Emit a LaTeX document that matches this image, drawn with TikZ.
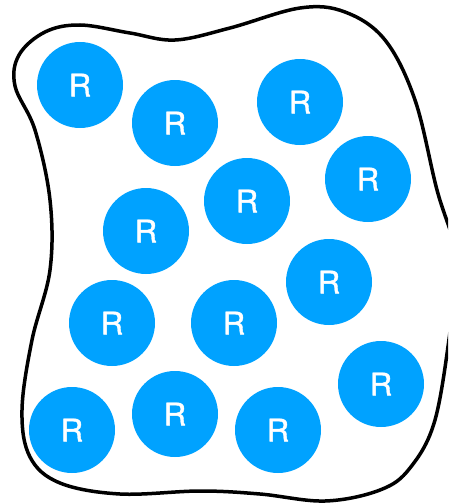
\documentclass[tikz,border=0pt]{standalone}
\usepackage{fontspec}
\newfontface\rface[FakeBold=1.3]{TeX Gyre Heros}
\usepackage{xcolor}
\definecolor{Rblue}{HTML}{00A2FF}

\begin{document}
\begin{tikzpicture}[
    x=1pt,y=-1pt,
    res/.style={circle,fill=Rblue,minimum size=86pt,inner sep=0pt,text=white,font=\rface\fontsize{31}{31}\selectfont},
    wall/.style={line width=3.5pt,black}
  ]
    \useasboundingbox (0,0) rectangle (448,503);
    \clip (0,0) rectangle (448,503);

    % outline of the region
    \draw[wall] plot[smooth cycle,tension=0.6] coordinates {
      (15,86) (19,55) (45,32) (80,25) (130,33) (175,40) (230,28) (300,8)
      (345,12) (385,40) (415,100) (437,190) (458,262) (451,325) (435,420)
      (410,468) (380,490) (325,501) (260,494) (200,491) (120,494) (60,483)
      (30,457) (22,410) (32,340) (50,270) (50,200) (35,130)};

    % top row
    \node[res] (r1) at (80,85) {R};
    \node[res] (r2) at (175,123) {R};
    \node[res] (r3) at (300,102) {R};
    % second row
    \node[res] (r4) at (368,179) {R};
    \node[res] (r5) at (247,201) {R};
    \node[res] (r6) at (146,231) {R};
    % third row
    \node[res] (r7) at (329,282) {R};
    \node[res] (r8) at (112,323) {R};
    \node[res] (r9) at (234,323) {R};
    % bottom row
    \node[res] (r10) at (381,384) {R};
    \node[res] (r11) at (72,430) {R};
    \node[res] (r12) at (175,414) {R};
    \node[res] (r13) at (278,430) {R};
\end{tikzpicture}
\end{document}
